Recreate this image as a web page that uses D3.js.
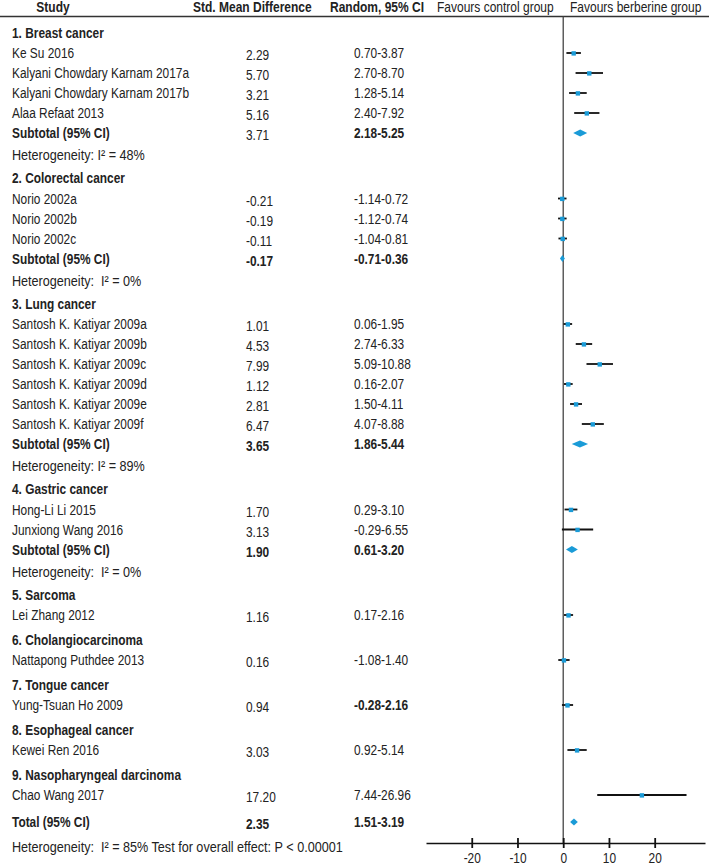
<!DOCTYPE html>
<html><head><meta charset="utf-8">
<script src="https://cdn.jsdelivr.net/npm/d3@7"></script>
<style>
html,body{margin:0;padding:0;background:#fff;}
svg{display:block;}
text{font-family:'Liberation Sans',Arial,sans-serif;font-size:14.5px;fill:#222;white-space:pre;}
</style></head><body>
<script>
// ---------- DATA ----------
const headers = ["Study", "Std. Mean Difference", "Random, 95% CI", "Favours control group", "Favours berberine group"];
const groupNames = ["1. Breast cancer", "2. Colorectal cancer", "3. Lung cancer", "4. Gastric cancer", "5. Sarcoma",
  "6. Cholangiocarcinoma", "7. Tongue cancer", "8. Esophageal cancer", "9. Nasopharyngeal darcinoma"];
const studyNames = ["Ke Su 2016", "Kalyani Chowdary Karnam 2017a", "Kalyani Chowdary Karnam 2017b", "Alaa Refaat 2013",
  "Norio 2002a", "Norio 2002b", "Norio 2002c",
  "Santosh K. Katiyar 2009a", "Santosh K. Katiyar 2009b", "Santosh K. Katiyar 2009c", "Santosh K. Katiyar 2009d", "Santosh K. Katiyar 2009e", "Santosh K. Katiyar 2009f",
  "Hong-Li Li 2015", "Junxiong Wang 2016",
  "Lei Zhang 2012", "Nattapong Puthdee 2013", "Yung-Tsuan Ho 2009", "Kewei Ren 2016", "Chao Wang 2017"];
const studyGroup = [0,0,0,0, 1,1,1, 2,2,2,2,2,2, 3,3, 4, 5, 6, 7, 8];
const smd     = [2.29, 5.70, 3.21, 5.16, -0.21, -0.19, -0.11, 1.01, 4.53, 7.99, 1.12, 2.81, 6.47, 1.70, 3.13, 1.16, 0.16, 0.94, 3.03, 17.20];
const ciLower = [0.70, 2.70, 1.28, 2.40, -1.14, -1.12, -1.04, 0.06, 2.74, 5.09, 0.16, 1.50, 4.07, 0.29, -0.29, 0.17, -1.08, -0.28, 0.92, 7.44];
const ciUpper = [3.87, 8.70, 5.14, 7.92, 0.72, 0.74, 0.81, 1.95, 6.33, 10.88, 2.07, 4.11, 8.88, 3.10, 6.55, 2.16, 1.40, 2.16, 5.14, 26.96];
const subtotalGroups = [0, 1, 2, 3];
const subtotalSMD   = [3.71, -0.17, 3.65, 1.90];
const subtotalLower = [2.18, -0.71, 1.86, 0.61];
const subtotalUpper = [5.25, 0.36, 5.44, 3.20];
const heterogeneity = ["Heterogeneity: I\u00b2 = 48%", "Heterogeneity:  I\u00b2 = 0%", "Heterogeneity: I\u00b2 = 89%", "Heterogeneity:  I\u00b2 = 0%"];
const totalLabel = "Total (95% CI)";
const subtotalLabel = "Subtotal (95% CI)";
const totalSMD = 2.35, totalLower = 1.51, totalUpper = 3.19;
const totalNote = "Heterogeneity:  I\u00b2 = 85% Test for overall effect: P < 0.00001";
const xTicks = [-20, -10, 0, 10, 20];

// ---------- STYLE QUIRKS ----------
const subtotalValueBold = [false, true, true, true];
const boldCIStudies = ["Yung-Tsuan Ho 2009"];

// ---------- LAYOUT ----------
const W = 709, H = 866;
const BLUE = "#1a9bd7";
const colName = 12, colSMD = 246, colCI = 354;
const svg = d3.select("body").append("svg").attr("width", W).attr("height", H);
svg.append("rect").attr("width", W).attr("height", H).attr("fill", "#fff");

const x = d3.scaleLinear().domain([-30, 31]).range([426, 705]);
const axisY = 843, headerLineY = 16.5;

function T(g, px, py, str, o = {}) {
  const size = o.size || 14.5, sx = o.sx || 0.82;
  return g.append("text")
    .attr("transform", `translate(${px},${py}) scale(${sx},1)`)
    .attr("dy", "0.35em")
    .attr("text-anchor", o.anchor || "start")
    .attr("font-weight", o.bold ? "bold" : "normal")
    .style("font-size", size + "px")
    .text(str);
}

// build rows
const rows = [];
groupNames.forEach((g, gi) => {
  rows.push({type: "heading", label: g});
  studyNames.forEach((s, si) => {
    if (studyGroup[si] === gi) rows.push({type: "study", label: s, est: smd[si], lo: ciLower[si], hi: ciUpper[si],
      boldCI: boldCIStudies.includes(s)});
  });
  const k = subtotalGroups.indexOf(gi);
  if (k >= 0) {
    rows.push({type: "subtotal", label: subtotalLabel, est: subtotalSMD[k], lo: subtotalLower[k], hi: subtotalUpper[k], boldVal: subtotalValueBold[k]});
    rows.push({type: "het", label: heterogeneity[k]});
  }
});
rows.push({type: "total", label: totalLabel, est: totalSMD, lo: totalLower, hi: totalUpper, boldVal: true});
rows.push({type: "foot", label: totalNote});

const gap = (p, c) => {
  if (c === "study") return p === "heading" ? 20.5 : 20;
  if (c === "subtotal") return 20;
  if (c === "het") return 22;
  if (c === "heading") return p === "het" ? 23 : 24.5;
  if (c === "total") return 27;
  if (c === "foot") return 24.5;
  return 20;
};
let yy = 32.5;
rows.forEach((r, i) => { if (i > 0) yy += gap(rows[i-1].type, r.type); r.y = yy; });

// header
const hdr = svg.append("g");
T(hdr, 53, 7, headers[0], {bold: true, anchor: "middle", size: 15, sx: 0.8});
T(hdr, 193, 7, headers[1], {bold: true, size: 15, sx: 0.8});
T(hdr, 330, 7, headers[2], {bold: true, size: 15, sx: 0.8});
T(hdr, 437, 7, headers[3], {size: 15, sx: 0.8});
T(hdr, 570, 7, headers[4], {size: 15, sx: 0.8});
svg.append("line").attr("x1", 0).attr("x2", W).attr("y1", headerLineY).attr("y2", headerLineY).attr("stroke", "#333").attr("stroke-width", 1.6);

// zero line
svg.append("line").attr("x1", x(0)).attr("x2", x(0)).attr("y1", headerLineY).attr("y2", axisY).attr("stroke", "#444").attr("stroke-width", 1.3);

// text rows
const tg = svg.append("g");
rows.forEach(r => {
  const bold = r.type === "heading" || r.type === "subtotal" || r.type === "total";
  const isHet = r.type === "het" || r.type === "foot";
  T(tg, colName, r.y, r.label, {bold, sx: isHet ? 0.87 : 0.82});
  if (r.est !== undefined) {
    const valBold = (r.type === "subtotal" || r.type === "total") ? r.boldVal : false;
    T(tg, colSMD, r.y + 2, r.est.toFixed(2), {bold: valBold});
    const ciBold = r.type === "subtotal" || r.type === "total" || r.boldCI;
    T(tg, colCI, r.y, r.lo.toFixed(2) + "-" + r.hi.toFixed(2), {bold: ciBold});
  }
});

// marks
const mg = svg.append("g");
rows.filter(r => r.type === "study").forEach(r => {
  mg.append("line").attr("x1", x(r.lo)).attr("x2", x(r.hi)).attr("y1", r.y).attr("y2", r.y).attr("stroke", "#111").attr("stroke-width", 1.8);
  mg.append("rect").attr("x", x(r.est) - 2.2).attr("y", r.y - 1.8).attr("width", 4.4).attr("height", 4.4).attr("fill", BLUE);
});
rows.filter(r => r.type === "subtotal" || r.type === "total").forEach(r => {
  const h = 3.6;
  mg.append("path").attr("fill", BLUE)
    .attr("d", `M${x(r.lo)},${r.y}L${x(r.est)},${r.y - h}L${x(r.hi)},${r.y}L${x(r.est)},${r.y + h}Z`);
});

// axis
const ax = svg.append("g").attr("transform", `translate(0,${axisY})`)
  .call(d3.axisBottom(x).tickValues(xTicks).tickSize(5).tickSizeOuter(0).tickPadding(8).tickFormat(d => String(d)));
ax.select(".domain").attr("stroke", "#111").attr("stroke-width", 1.6);
ax.selectAll(".tick line").attr("y1", -5).attr("y2", 5).attr("stroke", "#111").attr("stroke-width", 1.8);
ax.selectAll(".tick text").attr("font-family", null).attr("font-size", null)
  .attr("y", null).attr("dy", null)
  .attr("transform", "translate(0,19.5) scale(0.82,1)")
  .style("font-size", "14.5px").attr("fill", "#222");
</script>
</body></html>
